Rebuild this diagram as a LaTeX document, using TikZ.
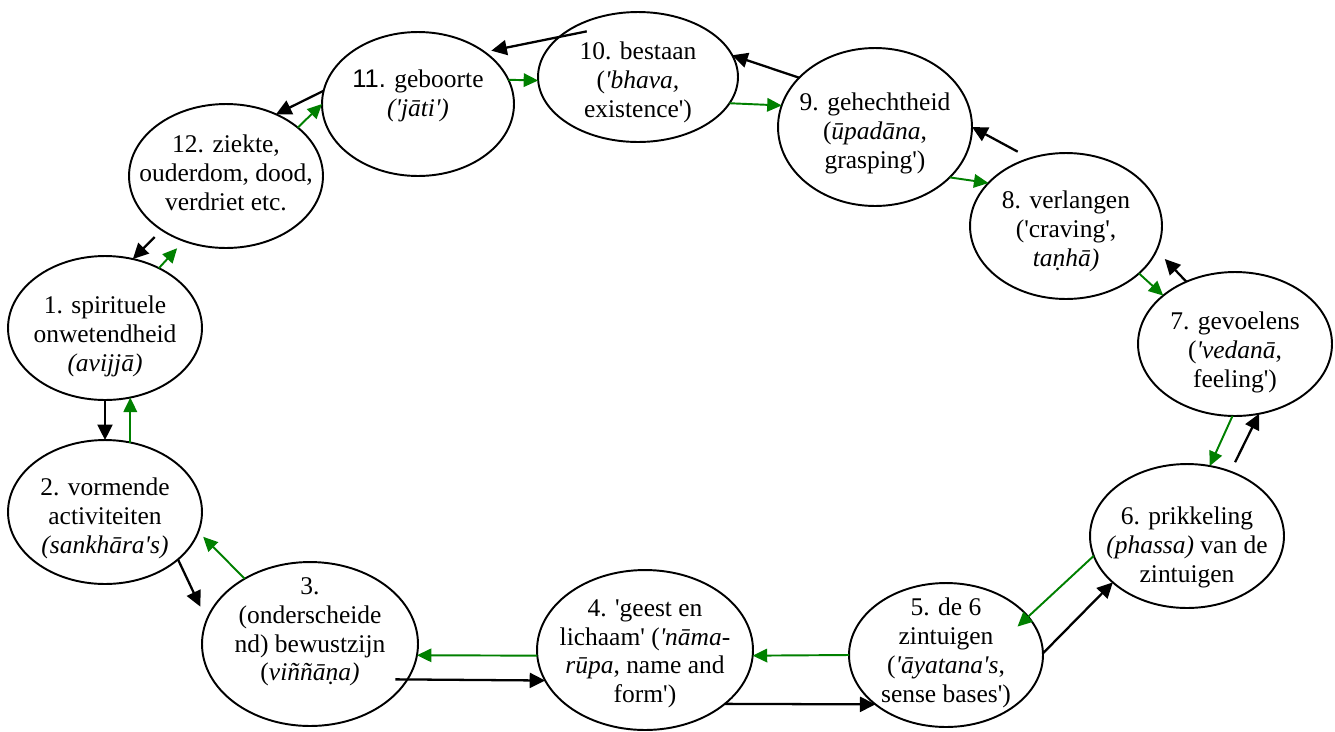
\documentclass[tikz,border=0pt]{standalone}
\usepackage{fontspec}
\setmainfont{Liberation Serif}
\newfontfamily\numfont{Liberation Sans}
\usetikzlibrary{shapes.geometric,arrows.meta}

\definecolor{arrowgreen}{RGB}{0,128,0}
\newcommand\sq{\textquotesingle}
\newcommand\stagefont{\fontsize{14.5}{16.5}\selectfont}
% text of a stage, raised by #1, without changing the size of the ellipse
\newcommand\stagetext[2][0pt]{\smash{\makebox[0pt]{\raisebox{#1}{\begin{tabular}{@{}c@{}}#2\end{tabular}}}}}

\tikzset{
  stage/.style={draw, ellipse, line width=1.1pt, inner sep=0pt, outer sep=0pt,
    minimum width=3.88cm, minimum height=2.88cm, font=\stagefont},
  bigstage/.style={stage, minimum width=4.32cm, minimum height=3.28cm},
  fwdarrow/.style={-{Triangle[length=0.31cm,width=0.3cm]}, line width=1.3pt, black},
  backarrow/.style={-{Triangle[length=0.29cm,width=0.27cm]}, line width=1.1pt, arrowgreen}
}

\begin{document}
\begin{tikzpicture}[x=0.02cm, y=-0.02cm]

  \fill[white] (0,0) rectangle (1335,731);
  \useasboundingbox (0,0) rectangle (1335,731);

  % the twelve stages
  \node[stage] (s1) at (105,328) {\stagetext[-8.5pt]{1. spirituele\\onwetendheid\\\textit{(avijjā)}}};
  \node[stage] (s2) at (105,512) {\stagetext[-7.4pt]{2. vormende\\activiteiten\\\textit{(sankhāra\sq s)}}};
  \node[bigstage] (s3) at (310,644) {\stagetext[3.4pt]{3.\\(onderscheide\\nd) bewustzijn\\(\textit{viññāṇa)}}};
  \node[bigstage, minimum height=3.2cm] (s4) at (645,650) {\stagetext[-5.7pt]{4. \sq geest en\\lichaam\sq{} (\textit{\sq nāma-}\\\textit{rūpa}, name and\\form\sq)}};
  \node[stage] (s5) at (946,655) {\stagetext[-2.8pt]{5. de 6\\zintuigen\\(\textit{\sq āyatana\sq s},\\sense bases\sq)}};
  \node[stage] (s6) at (1187,536) {\stagetext[-10.2pt]{6. prikkeling\\\textit{(phassa)} van de\\zintuigen}};
  \node[stage] (s7) at (1235,344) {\stagetext[-8.5pt]{7. gevoelens\\(\textit{\sq vedanā},\\feeling\sq)}};
  \node[stage, minimum width=3.84cm, minimum height=2.92cm] (s8) at (1066,226) {\stagetext[-6.8pt]{8. verlangen\\(\sq craving\sq,\\\textit{taṇhā)}}};
  \node[stage, minimum height=3.16cm] (s9) at (875,127) {\stagetext[-7.4pt]{9. gehechtheid\\(\textit{ūpadāna},\\grasping\sq)}};
  \node[stage, minimum width=4cm, minimum height=2.6cm] (s10) at (638,77) {\stagetext[-6.8pt]{10. bestaan\\(\textit{\sq bhava,}\\existence\sq)}};
  \node[stage, minimum width=3.84cm] (s11) at (418,104) {\stagetext[1.1pt]{{\numfont 11.} geboorte\\\textit{(\sq jāti\sq)}}};
  \node[stage] (s12) at (226,176) {\stagetext[-3.4pt]{12. ziekte,\\ouderdom, dood,\\verdriet etc.}};

  % black arrows, forwards round the circle
  \draw[fwdarrow] (s1.south) -- (s2.north);
  \draw[fwdarrow, shorten >=0.3cm] (s2.-33) -- (s3.167);
  \draw[fwdarrow, shorten <=-0.24cm] (s3.-20) -- (s4.197);
  \draw[fwdarrow] (s4.-34) -- (s5.215);
  \draw[fwdarrow] (s5.1) -- (s6.212);
  \draw[fwdarrow, shorten <=0.21cm] (s6.56) -- (s7.-71);
  \draw[fwdarrow, shorten >=0.24cm] (s7.128) -- (s8.-15);
  \draw[fwdarrow, shorten <=0.28cm] (s8.118) -- (s9.east);
  \draw[fwdarrow] (s9.147) -- (s10.13);
  \draw[fwdarrow, shorten <=-0.56cm, shorten >=0.14cm] (s10.153) -- (s11.38);
  \draw[fwdarrow] (s11.172) -- (s12.51);
  \draw[fwdarrow, shorten <=0.2cm] (s12.220) -- (s1.68);

  % green arrows, backwards
  \draw[backarrow] (s2.70) -- (s1.-70);
  \draw[backarrow, shorten >=0.14cm] (s3.135) -- (s2.-12);
  \draw[backarrow] (s4.183) -- (s3.-6);
  \draw[backarrow] (s5.180) -- (s4.-3);
  \draw[backarrow, shorten >=-0.29cm] (s6.192) -- (s5.25);
  \draw[backarrow] (s7.-92) -- (s6.72);
  \draw[backarrow] (s8.-33) -- (s7.146);
  \draw[backarrow] (s9.-34) -- (s8.151);
  \draw[backarrow] (s10.-16) -- (s9.167);
  \draw[backarrow] (s11.15) -- (s10.182);
  \draw[backarrow] (s12.34) -- (s11.180);
  \draw[backarrow, shorten >=0.2cm] (s1.48) -- (s12.237);

\end{tikzpicture}
\end{document}
